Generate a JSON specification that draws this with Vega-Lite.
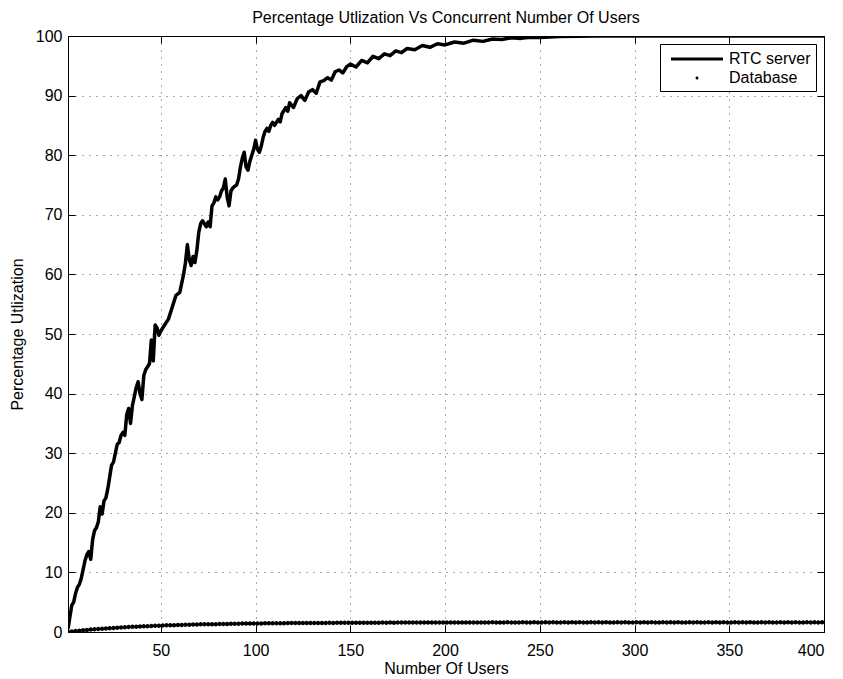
{
  "$schema": "https://vega.github.io/schema/vega-lite/v6.json",
  "width": 756,
  "height": 596,
  "autosize": {"type": "none"},
  "padding": {"left": 68, "top": 36, "right": 19, "bottom": 47},
  "background": "white",
  "title": {
    "text": "Percentage Utlization Vs Concurrent Number Of Users",
    "font": "Liberation Sans",
    "fontSize": 16,
    "fontWeight": "normal",
    "color": "black",
    "anchor": "middle",
    "offset": 2
  },
  "config": {
    "view": {"stroke": null},
    "axis": {
      "labelFont": "Liberation Sans",
      "labelFontSize": 16,
      "labelColor": "black",
      "titleFont": "Liberation Sans",
      "titleFontSize": 16,
      "titleFontWeight": "normal",
      "titleColor": "black",
      "domainColor": "black",
      "domainWidth": 1,
      "tickColor": "black",
      "tickSize": -7,
      "tickWidth": 1,
      "gridColor": "#555555",
      "gridDash": [1, 6],
      "gridWidth": 1,
      "gridOpacity": 1
    },
    "legend": {
      "labelFont": "Liberation Sans",
      "labelFontSize": 16,
      "labelColor": "black"
    }
  },
  "datasets": {
    "rtc": [
      {"users": 1, "util": 0.5}, {"users": 2, "util": 2.5}, {"users": 3, "util": 4.5}, {"users": 4, "util": 5},
      {"users": 5, "util": 6.5}, {"users": 6, "util": 7.5}, {"users": 7, "util": 8}, {"users": 8, "util": 9},
      {"users": 9, "util": 10.5}, {"users": 10, "util": 12}, {"users": 11, "util": 13}, {"users": 12, "util": 13.5},
      {"users": 13, "util": 12.2}, {"users": 14, "util": 15.5}, {"users": 15, "util": 17}, {"users": 16, "util": 17.5},
      {"users": 17, "util": 18.5}, {"users": 18, "util": 21}, {"users": 19, "util": 19.8}, {"users": 20, "util": 22},
      {"users": 21, "util": 22.5}, {"users": 22, "util": 24}, {"users": 23, "util": 26}, {"users": 24, "util": 28},
      {"users": 25, "util": 28.5}, {"users": 26, "util": 30}, {"users": 27, "util": 31.5}, {"users": 28, "util": 31.8},
      {"users": 29, "util": 33}, {"users": 30, "util": 33.5}, {"users": 31, "util": 33}, {"users": 32, "util": 36.5},
      {"users": 33, "util": 37.5}, {"users": 34, "util": 35}, {"users": 35, "util": 38}, {"users": 36, "util": 39.5},
      {"users": 37, "util": 41}, {"users": 38, "util": 42}, {"users": 39, "util": 40}, {"users": 40, "util": 39},
      {"users": 41, "util": 43}, {"users": 42, "util": 44}, {"users": 43, "util": 44.5}, {"users": 44, "util": 45},
      {"users": 45, "util": 49}, {"users": 46, "util": 45.5}, {"users": 47, "util": 51.5}, {"users": 48, "util": 51},
      {"users": 49, "util": 49.8}, {"users": 50, "util": 50.5}, {"users": 52, "util": 51.5}, {"users": 54, "util": 52.5},
      {"users": 56, "util": 54.5}, {"users": 58, "util": 56.5}, {"users": 60, "util": 57}, {"users": 62, "util": 60},
      {"users": 63, "util": 62}, {"users": 64, "util": 65}, {"users": 65, "util": 62.5}, {"users": 66, "util": 61.5},
      {"users": 67, "util": 63}, {"users": 68, "util": 62}, {"users": 69, "util": 64}, {"users": 70, "util": 67},
      {"users": 71, "util": 68.5}, {"users": 72, "util": 69}, {"users": 73, "util": 68.5}, {"users": 74, "util": 68},
      {"users": 75, "util": 68.8}, {"users": 76, "util": 68}, {"users": 77, "util": 71.5}, {"users": 78, "util": 72},
      {"users": 79, "util": 73}, {"users": 80, "util": 72.5}, {"users": 81, "util": 73}, {"users": 82, "util": 74},
      {"users": 83, "util": 74.5}, {"users": 84, "util": 76}, {"users": 85, "util": 73}, {"users": 86, "util": 71.5},
      {"users": 87, "util": 74}, {"users": 88, "util": 74.5}, {"users": 89, "util": 74.8}, {"users": 90, "util": 75},
      {"users": 91, "util": 76}, {"users": 92, "util": 78}, {"users": 93, "util": 79.5}, {"users": 94, "util": 80.5},
      {"users": 95, "util": 78}, {"users": 96, "util": 77.5}, {"users": 97, "util": 79}, {"users": 98, "util": 80},
      {"users": 99, "util": 81}, {"users": 100, "util": 82.5}, {"users": 101, "util": 81}, {"users": 102, "util": 80.5},
      {"users": 103, "util": 81.5}, {"users": 104, "util": 83}, {"users": 105, "util": 84}, {"users": 106, "util": 84.5},
      {"users": 107, "util": 84}, {"users": 108, "util": 85}, {"users": 109, "util": 85.5}, {"users": 110, "util": 85},
      {"users": 112, "util": 86}, {"users": 113, "util": 85.6}, {"users": 114, "util": 87}, {"users": 116, "util": 88},
      {"users": 117, "util": 87.4}, {"users": 118, "util": 88.8}, {"users": 120, "util": 88}, {"users": 122, "util": 89.5},
      {"users": 124, "util": 90}, {"users": 126, "util": 89.2}, {"users": 128, "util": 90.6}, {"users": 130, "util": 91},
      {"users": 132, "util": 90.4}, {"users": 134, "util": 92.3}, {"users": 136, "util": 92.5}, {"users": 138, "util": 93},
      {"users": 140, "util": 92.6}, {"users": 142, "util": 94}, {"users": 144, "util": 94.3}, {"users": 146, "util": 93.8},
      {"users": 148, "util": 94.8}, {"users": 150, "util": 95.3}, {"users": 153, "util": 94.8}, {"users": 156, "util": 95.9},
      {"users": 159, "util": 95.5}, {"users": 162, "util": 96.6}, {"users": 165, "util": 96.2}, {"users": 168, "util": 97},
      {"users": 171, "util": 96.7}, {"users": 174, "util": 97.5}, {"users": 177, "util": 97.2}, {"users": 180, "util": 97.9},
      {"users": 184, "util": 97.7}, {"users": 188, "util": 98.4}, {"users": 192, "util": 98.1}, {"users": 196, "util": 98.7},
      {"users": 200, "util": 98.5}, {"users": 205, "util": 99}, {"users": 210, "util": 98.8}, {"users": 215, "util": 99.3},
      {"users": 220, "util": 99.1}, {"users": 225, "util": 99.5}, {"users": 230, "util": 99.4}, {"users": 235, "util": 99.7},
      {"users": 240, "util": 99.6}, {"users": 245, "util": 99.8}, {"users": 250, "util": 99.75}, {"users": 260, "util": 99.9},
      {"users": 270, "util": 99.95}, {"users": 280, "util": 100}, {"users": 300, "util": 100}, {"users": 320, "util": 100},
      {"users": 340, "util": 100}, {"users": 360, "util": 100}, {"users": 380, "util": 100}, {"users": 400, "util": 100}
    ],
    "db": [
      {"users": 1, "util": 0.04}, {"users": 3, "util": 0.1}, {"users": 5, "util": 0.17}, {"users": 7, "util": 0.23},
      {"users": 9, "util": 0.29}, {"users": 11, "util": 0.35}, {"users": 13, "util": 0.4}, {"users": 15, "util": 0.46},
      {"users": 17, "util": 0.5}, {"users": 19, "util": 0.55}, {"users": 21, "util": 0.6}, {"users": 23, "util": 0.65},
      {"users": 25, "util": 0.68}, {"users": 27, "util": 0.72}, {"users": 29, "util": 0.77}, {"users": 31, "util": 0.8},
      {"users": 33, "util": 0.83}, {"users": 35, "util": 0.88}, {"users": 37, "util": 0.9}, {"users": 39, "util": 0.93},
      {"users": 41, "util": 0.97}, {"users": 43, "util": 0.98}, {"users": 45, "util": 1.01}, {"users": 47, "util": 1.05},
      {"users": 49, "util": 1.06}, {"users": 51, "util": 1.08}, {"users": 53, "util": 1.12}, {"users": 55, "util": 1.13},
      {"users": 57, "util": 1.15}, {"users": 59, "util": 1.18}, {"users": 61, "util": 1.19}, {"users": 63, "util": 1.21},
      {"users": 65, "util": 1.23}, {"users": 67, "util": 1.24}, {"users": 69, "util": 1.25}, {"users": 71, "util": 1.28},
      {"users": 73, "util": 1.28}, {"users": 75, "util": 1.3}, {"users": 77, "util": 1.32}, {"users": 79, "util": 1.32},
      {"users": 81, "util": 1.34}, {"users": 83, "util": 1.36}, {"users": 85, "util": 1.36}, {"users": 87, "util": 1.38},
      {"users": 89, "util": 1.38}, {"users": 91, "util": 1.39}, {"users": 93, "util": 1.41}, {"users": 95, "util": 1.41},
      {"users": 97, "util": 1.41}, {"users": 99, "util": 1.43}, {"users": 101, "util": 1.43}, {"users": 103, "util": 1.44},
      {"users": 105, "util": 1.45}, {"users": 107, "util": 1.45}, {"users": 109, "util": 1.46}, {"users": 111, "util": 1.47},
      {"users": 113, "util": 1.47}, {"users": 115, "util": 1.48}, {"users": 117, "util": 1.49}, {"users": 119, "util": 1.49},
      {"users": 121, "util": 1.5}, {"users": 123, "util": 1.5}, {"users": 125, "util": 1.51}, {"users": 127, "util": 1.51},
      {"users": 129, "util": 1.52}, {"users": 131, "util": 1.51}, {"users": 133, "util": 1.52}, {"users": 135, "util": 1.53},
      {"users": 137, "util": 1.52}, {"users": 139, "util": 1.54}, {"users": 141, "util": 1.53}, {"users": 143, "util": 1.54},
      {"users": 145, "util": 1.55}, {"users": 147, "util": 1.54}, {"users": 149, "util": 1.55}, {"users": 151, "util": 1.56},
      {"users": 153, "util": 1.55}, {"users": 155, "util": 1.56}, {"users": 157, "util": 1.57}, {"users": 159, "util": 1.56},
      {"users": 161, "util": 1.57}, {"users": 163, "util": 1.56}, {"users": 165, "util": 1.57}, {"users": 167, "util": 1.58},
      {"users": 169, "util": 1.57}, {"users": 171, "util": 1.58}, {"users": 173, "util": 1.57}, {"users": 175, "util": 1.58},
      {"users": 177, "util": 1.59}, {"users": 179, "util": 1.58}, {"users": 181, "util": 1.58}, {"users": 183, "util": 1.59},
      {"users": 185, "util": 1.58}, {"users": 187, "util": 1.59}, {"users": 189, "util": 1.6}, {"users": 191, "util": 1.59},
      {"users": 193, "util": 1.59}, {"users": 195, "util": 1.6}, {"users": 197, "util": 1.59}, {"users": 199, "util": 1.6},
      {"users": 201, "util": 1.61}, {"users": 203, "util": 1.6}, {"users": 205, "util": 1.59}, {"users": 207, "util": 1.6},
      {"users": 209, "util": 1.61}, {"users": 211, "util": 1.6}, {"users": 213, "util": 1.6}, {"users": 215, "util": 1.61},
      {"users": 217, "util": 1.6}, {"users": 219, "util": 1.61}, {"users": 221, "util": 1.6}, {"users": 223, "util": 1.61},
      {"users": 225, "util": 1.62}, {"users": 227, "util": 1.61}, {"users": 229, "util": 1.6}, {"users": 231, "util": 1.61},
      {"users": 233, "util": 1.62}, {"users": 235, "util": 1.61}, {"users": 237, "util": 1.6}, {"users": 239, "util": 1.61},
      {"users": 241, "util": 1.62}, {"users": 243, "util": 1.61}, {"users": 245, "util": 1.61}, {"users": 247, "util": 1.62},
      {"users": 249, "util": 1.61}, {"users": 251, "util": 1.6}, {"users": 253, "util": 1.62}, {"users": 255, "util": 1.61},
      {"users": 257, "util": 1.62}, {"users": 259, "util": 1.61}, {"users": 261, "util": 1.6}, {"users": 263, "util": 1.62},
      {"users": 265, "util": 1.61}, {"users": 267, "util": 1.62}, {"users": 269, "util": 1.61}, {"users": 271, "util": 1.62},
      {"users": 273, "util": 1.61}, {"users": 275, "util": 1.6}, {"users": 277, "util": 1.62}, {"users": 279, "util": 1.61},
      {"users": 281, "util": 1.62}, {"users": 283, "util": 1.61}, {"users": 285, "util": 1.62}, {"users": 287, "util": 1.6},
      {"users": 289, "util": 1.61}, {"users": 291, "util": 1.62}, {"users": 293, "util": 1.61}, {"users": 295, "util": 1.62},
      {"users": 297, "util": 1.61}, {"users": 299, "util": 1.6}, {"users": 301, "util": 1.62}, {"users": 303, "util": 1.61},
      {"users": 305, "util": 1.62}, {"users": 307, "util": 1.61}, {"users": 309, "util": 1.62}, {"users": 311, "util": 1.61},
      {"users": 313, "util": 1.6}, {"users": 315, "util": 1.62}, {"users": 317, "util": 1.61}, {"users": 319, "util": 1.62},
      {"users": 321, "util": 1.61}, {"users": 323, "util": 1.62}, {"users": 325, "util": 1.6}, {"users": 327, "util": 1.61},
      {"users": 329, "util": 1.62}, {"users": 331, "util": 1.61}, {"users": 333, "util": 1.62}, {"users": 335, "util": 1.61},
      {"users": 337, "util": 1.6}, {"users": 339, "util": 1.62}, {"users": 341, "util": 1.61}, {"users": 343, "util": 1.62},
      {"users": 345, "util": 1.61}, {"users": 347, "util": 1.62}, {"users": 349, "util": 1.61}, {"users": 351, "util": 1.6},
      {"users": 353, "util": 1.62}, {"users": 355, "util": 1.61}, {"users": 357, "util": 1.62}, {"users": 359, "util": 1.61},
      {"users": 361, "util": 1.62}, {"users": 363, "util": 1.6}, {"users": 365, "util": 1.61}, {"users": 367, "util": 1.62},
      {"users": 369, "util": 1.61}, {"users": 371, "util": 1.62}, {"users": 373, "util": 1.61}, {"users": 375, "util": 1.6},
      {"users": 377, "util": 1.62}, {"users": 379, "util": 1.61}, {"users": 381, "util": 1.62}, {"users": 383, "util": 1.61},
      {"users": 385, "util": 1.62}, {"users": 387, "util": 1.61}, {"users": 389, "util": 1.6}, {"users": 391, "util": 1.62},
      {"users": 393, "util": 1.61}, {"users": 395, "util": 1.62}, {"users": 397, "util": 1.61}, {"users": 399, "util": 1.62}
    ]
  },
  "layer": [
    {
      "data": {"name": "rtc"},
      "mark": {"type": "line", "color": "black", "strokeWidth": 3.5, "strokeJoin": "round", "clip": true},
      "encoding": {
        "x": {
          "field": "users", "type": "quantitative",
          "scale": {"domain": [1, 400], "nice": false, "zero": false},
          "axis": {
            "orient": "bottom", "title": "Number Of Users",
            "values": [50, 100, 150, 200, 250, 300, 350, 400],
            "grid": true, "labelPadding": 17, "titlePadding": 2
          }
        },
        "y": {
          "field": "util", "type": "quantitative",
          "scale": {"domain": [0, 100], "nice": false},
          "axis": {
            "orient": "left", "title": "Percentage Utlization",
            "values": [0, 10, 20, 30, 40, 50, 60, 70, 80, 90, 100],
            "grid": true, "labelPadding": 13, "titlePadding": 10
          }
        }
      }
    },
    {
      "data": {"name": "db"},
      "mark": {"type": "point", "filled": true, "color": "black", "size": 900, "opacity": 1, "clip": true},
      "encoding": {
        "x": {"field": "users", "type": "quantitative", "scale": {"domain": [1, 400], "nice": false, "zero": false}, "axis": null},
        "y": {"field": "util", "type": "quantitative", "scale": {"domain": [0, 100], "nice": false}, "axis": null},
        "shape": {
          "datum": "Database", "type": "nominal",
          "scale": {
            "domain": ["RTC server", "Database"],
            "range": ["M-2.6,-0.15L2.6,-0.15L2.6,0.15L-2.6,0.15Z", "M0.15,0A0.15,0.15,0,1,1,-0.15,0A0.15,0.15,0,1,1,0.15,0Z"]
          },
          "legend": {
            "title": null,
            "orient": "top-right",
            "offset": 8,
            "padding": 5,
            "strokeColor": "black",
            "fillColor": "white",
            "symbolSize": 400,
            "symbolFillColor": "black",
            "symbolStrokeWidth": 0,
            "symbolOpacity": 1,
            "symbolOffset": 22,
            "labelOffset": 22,
            "rowPadding": 1
          }
        }
      }
    },
    {
      "data": {"name": "rtc"},
      "mark": {"type": "point", "opacity": 0},
      "encoding": {
        "x": {
          "field": "users", "type": "quantitative",
          "scale": {"domain": [1, 400], "nice": false, "zero": false},
          "axis": {"orient": "top", "title": null, "labels": false, "grid": false, "values": [50, 100, 150, 200, 250, 300, 350, 400]}
        },
        "y": {
          "field": "util", "type": "quantitative",
          "scale": {"domain": [0, 100], "nice": false},
          "axis": {"orient": "right", "title": null, "labels": false, "grid": false, "values": [0, 10, 20, 30, 40, 50, 60, 70, 80, 90, 100]}
        }
      }
    }
  ],
  "resolve": {"axis": {"x": "independent", "y": "independent"}}
}
